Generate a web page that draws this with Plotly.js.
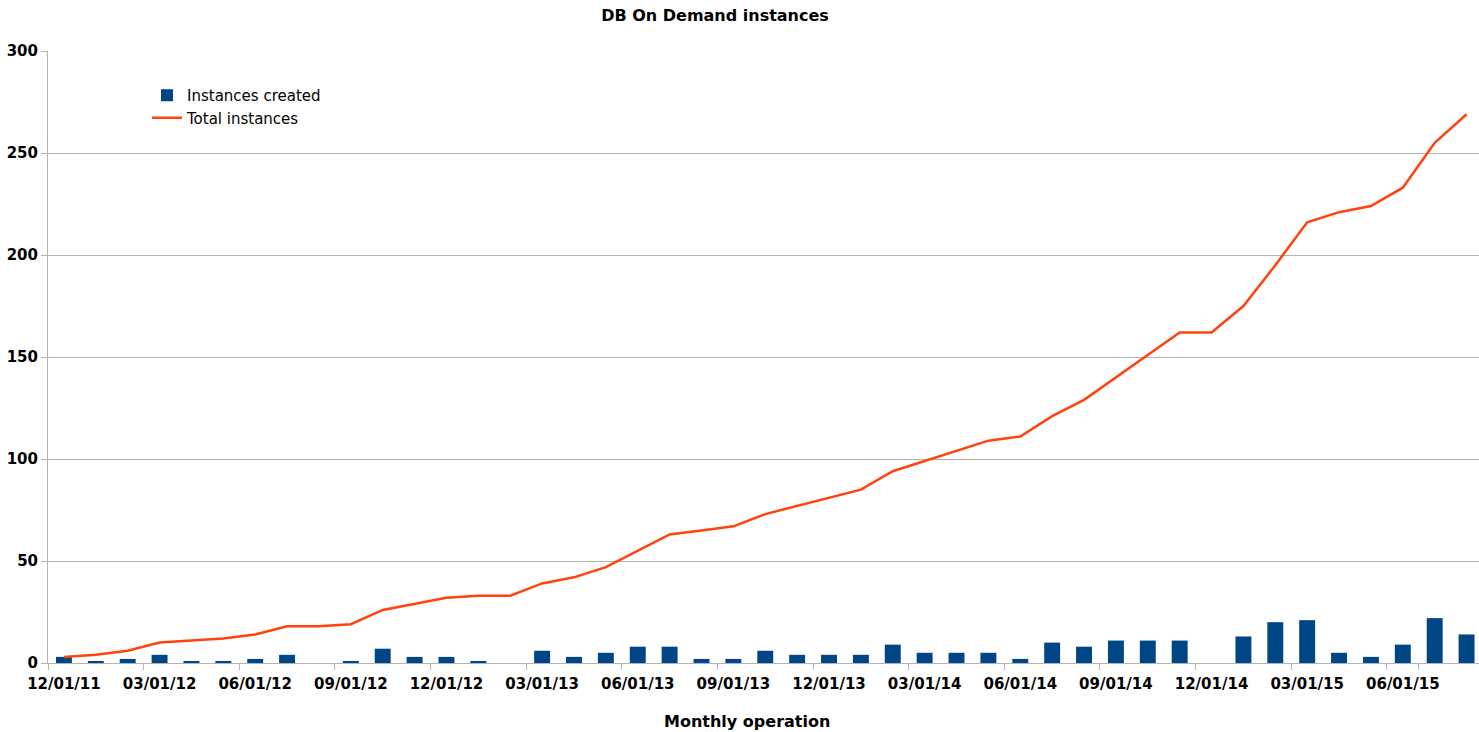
<!DOCTYPE html>
<html>
<head>
<meta charset="utf-8">
<script src="https://cdn.plot.ly/plotly-3.0.1.min.js"></script>
<style>html,body{margin:0;padding:0;background:#fff;overflow:hidden;}#chart{width:1479px;height:732px;}</style>
</head>
<body>
<div id="chart"></div>
<script>
const months = [
  "12/01/11","01/01/12","02/01/12","03/01/12","04/01/12","05/01/12","06/01/12","07/01/12","08/01/12","09/01/12","10/01/12","11/01/12",
  "12/01/12","01/01/13","02/01/13","03/01/13","04/01/13","05/01/13","06/01/13","07/01/13","08/01/13","09/01/13","10/01/13","11/01/13",
  "12/01/13","01/01/14","02/01/14","03/01/14","04/01/14","05/01/14","06/01/14","07/01/14","08/01/14","09/01/14","10/01/14","11/01/14",
  "12/01/14","01/01/15","02/01/15","03/01/15","04/01/15","05/01/15","06/01/15","07/01/15","08/01/15"
];
const instancesCreated = [
  3,1,2,4,1,1,2,4,0,1,7,3,
  3,1,0,6,3,5,8,8,2,2,6,4,
  4,4,9,5,5,5,2,10,8,11,11,11,
  0,13,20,21,5,3,9,22,14
];
const totalInstances = [
  3,4,6,10,11,12,14,18,18,19,26,29,
  32,33,33,39,42,47,55,63,65,67,73,77,
  81,85,94,99,104,109,111,121,129,140,151,162,
  162,175,195,216,221,224,233,255,269
];
const tickLabels = ["12/01/11","03/01/12","06/01/12","09/01/12","12/01/12","03/01/13","06/01/13","09/01/13","12/01/13","03/01/14","06/01/14","09/01/14","12/01/14","03/01/15","06/01/15"];
const yTicks = [0,50,100,150,200,250,300];

const barColor = "#004586";
const lineColor = "#ff420e";
const gridColor = "#b3b3b3";

const traces = [
  {type:"bar", name:"Instances created", x:months, y:instancesCreated,
   width:0.5, marker:{color:barColor, line:{width:0}}},
  {type:"scatter", mode:"lines", name:"Total instances", x:months, y:totalInstances,
   line:{color:lineColor, width:2.5}}
];

const layout = {
  width:1479, height:732,
  margin:{l:48, r:0, t:51, b:69},
  paper_bgcolor:"#fff", plot_bgcolor:"#fff",
  font:{family:"DejaVu Sans", size:15, color:"#000"},
  title:{text:"<b>DB On Demand instances</b>", x:715/1479, xanchor:"center", y:1-15/732, yanchor:"middle",
         font:{family:"DejaVu Sans", size:16, color:"#000"}},
  showlegend:true,
  legend:{x:(147-48)/1431, y:1-(79-51)/612, xanchor:"left", yanchor:"top",
          bgcolor:"rgba(0,0,0,0)", font:{family:"DejaVu Sans", size:15, color:"#000"},
          tracegroupgap:0, itemwidth:30},
  xaxis:{type:"category", range:[-0.5, 44.39], tickvals:tickLabels, ticktext:tickLabels, tickangle:0,
         tickson:"boundaries", ticks:"outside", ticklen:6, tickcolor:gridColor, ticklabelstandoff:7,
         showline:true, linecolor:gridColor, linewidth:1, showgrid:false, zeroline:false,
         tickfont:{family:"DejaVu Sans", size:15, color:"#000", weight:"bold"}, fixedrange:true},
  yaxis:{range:[0,300], tickvals:yTicks, ticks:"outside", ticklen:6, tickcolor:gridColor,
         showline:true, linecolor:gridColor, linewidth:1, showgrid:true, gridcolor:gridColor, gridwidth:1,
         zeroline:false, tickfont:{family:"DejaVu Sans", size:15, color:"#000", weight:"bold"}, fixedrange:true},
  bargap:0.5,
  annotations:[
    {text:"<b>Monthly operation</b>", xref:"paper", yref:"paper", x:(747-48)/1431, y:-(721-663)/612,
     xanchor:"center", yanchor:"middle", showarrow:false, font:{family:"DejaVu Sans", size:16, color:"#000"}}
  ]
};

Plotly.newPlot("chart", traces, layout, {displayModeBar:false, staticPlot:true});
</script>
</body>
</html>
